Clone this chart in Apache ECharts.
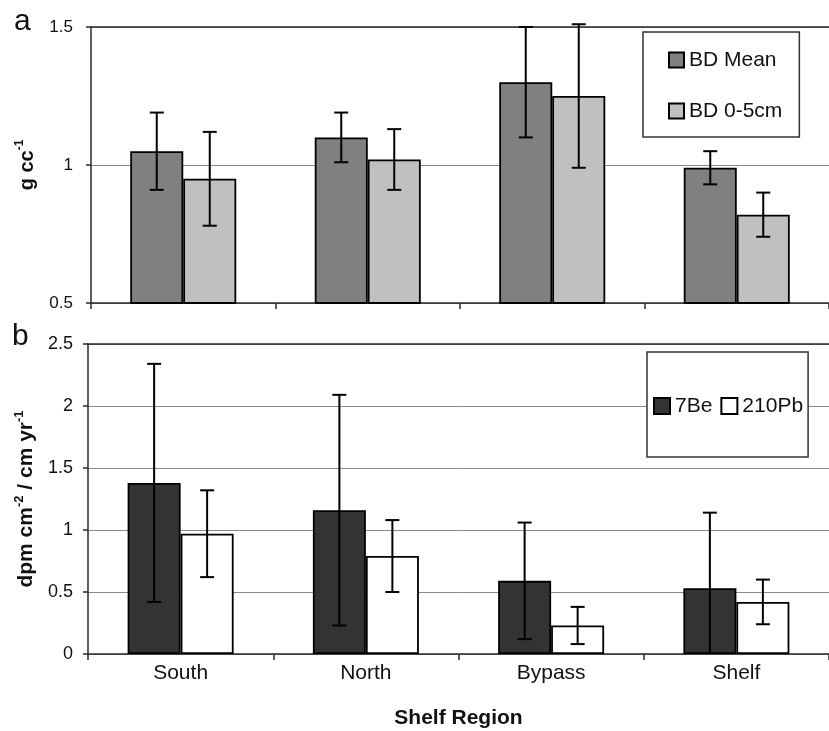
<!DOCTYPE html>
<html>
<head>
<meta charset="utf-8">
<script src="https://cdn.jsdelivr.net/npm/echarts@6/dist/echarts.min.js"></script>
<style>html,body{margin:0;padding:0;background:#fff}#c{width:829px;height:731px}</style>
</head>
<body>
<div id="c"></div>
<script>
const categories = ['South', 'North', 'Bypass', 'Shelf'];
const bdMean = [1.05, 1.10, 1.30, 0.99];
const bdMeanErr = [0.14, 0.09, 0.20, 0.06];
const bd05 = [0.95, 1.02, 1.25, 0.82];
const bd05Err = [0.17, 0.11, 0.26, 0.08];
const be7 = [1.38, 1.16, 0.59, 0.53];
const be7Err = [0.96, 0.93, 0.47, 0.61];
const pb210 = [0.97, 0.79, 0.23, 0.42];
const pb210Err = [0.35, 0.29, 0.15, 0.18];
const topTicks = {min: 0.5, max: 1.5, interval: 0.5};
const botTicks = {min: 0, max: 2.5, interval: 0.5};

const FONT = '"Liberation Sans", Arial, Helvetica, sans-serif';
const BAR_W = 53;
const CAP = 14;
const AXIS_C = '#2a2a2a';
const GRID_C = '#8a8a8a';

function errSeries(name, vals, errs, slot, xi, yi, axisMin) {
  return {
    type: 'custom', name: name, xAxisIndex: xi, yAxisIndex: yi, z: 5,
    silent: true, clip: false,
    data: vals.map((v, i) => [i, v, errs[i]]),
    encode: {x: 0, y: 1},
    renderItem: function (params, api) {
      const i = api.value(0), v = api.value(1), e = api.value(2);
      const c = api.coord([i, v]);
      const x = c[0] + (slot - 0.5) * BAR_W;
      const yTop = api.coord([i, v + e])[1];
      const low = Math.max(v - e, axisMin);
      const yBot = api.coord([i, low])[1];
      const st = {stroke: '#000', lineWidth: 2};
      const kids = [
        {type: 'line', shape: {x1: x, y1: yTop, x2: x, y2: yBot}, style: st},
        {type: 'line', shape: {x1: x - CAP / 2, y1: yTop, x2: x + CAP / 2, y2: yTop}, style: st}
      ];
      if (v - e >= axisMin) {
        kids.push({type: 'line', shape: {x1: x - CAP / 2, y1: yBot, x2: x + CAP / 2, y2: yBot}, style: st});
      }
      return {type: 'group', children: kids};
    }
  };
}

function barSeries(name, vals, color, xi, yi) {
  return {
    type: 'bar', name: name, data: vals, xAxisIndex: xi, yAxisIndex: yi,
    barWidth: BAR_W, barGap: '0%',
    itemStyle: {color: color, borderColor: '#000', borderWidth: 1.8},
    emphasis: {disabled: true}
  };
}

const chart = echarts.init(document.getElementById('c'), null, {renderer: 'canvas'});

const catAxisBase = {
  type: 'category', data: categories,
  axisLine: {lineStyle: {color: AXIS_C, width: 1.5}},
  axisTick: {show: true, length: 6, lineStyle: {color: AXIS_C, width: 1.5}},
  splitLine: {show: false}
};
const topLineAxis = (gi) => ({
  type: 'category', data: categories, gridIndex: gi, position: 'top',
  axisLine: {show: true, lineStyle: {color: AXIS_C, width: 1.5}},
  axisTick: {show: false}, axisLabel: {show: false}, splitLine: {show: false}
});

function richName(size) {
  return {
    m: {fontSize: size, fontWeight: 'bold', color: '#111', fontFamily: FONT, lineHeight: 26},
    s: {fontSize: Math.round(size * 0.62), fontWeight: 'bold', color: '#111', fontFamily: FONT, verticalAlign: 'top', lineHeight: 26}
  };
}

chart.setOption({
  animation: false,
  backgroundColor: '#fff',
  textStyle: {fontFamily: FONT},
  grid: [
    {left: 91, top: 27, width: 739, height: 276},
    {left: 88, top: 344, width: 741, height: 310}
  ],
  xAxis: [
    Object.assign({}, catAxisBase, {gridIndex: 0, axisLabel: {show: false}}),
    Object.assign({}, catAxisBase, {
      gridIndex: 1,
      axisLabel: {fontSize: 21, color: '#111', margin: 9, fontFamily: FONT},
      name: 'Shelf Region', nameLocation: 'middle', nameGap: 54,
      nameTextStyle: {fontSize: 21, fontWeight: 'bold', color: '#111', fontFamily: FONT}
    }),
    topLineAxis(0),
    topLineAxis(1)
  ],
  yAxis: [
    {
      type: 'value', gridIndex: 0, min: topTicks.min, max: topTicks.max, interval: topTicks.interval,
      axisLine: {show: true, lineStyle: {color: AXIS_C, width: 1.5}},
      axisTick: {show: true, length: 5, lineStyle: {color: AXIS_C, width: 1.5}},
      axisLabel: {fontSize: 17, color: '#111', margin: 18, fontFamily: FONT},
      splitLine: {show: true, lineStyle: {color: GRID_C, width: 1}},
      name: '{m|g cc}{s|-1}', nameLocation: 'middle', nameRotate: 90, nameGap: 51,
      nameTextStyle: {rich: richName(20)}
    },
    {
      type: 'value', gridIndex: 1, min: botTicks.min, max: botTicks.max, interval: botTicks.interval,
      axisLine: {show: true, lineStyle: {color: AXIS_C, width: 1.5}},
      axisTick: {show: true, length: 5, lineStyle: {color: AXIS_C, width: 1.5}},
      axisLabel: {fontSize: 18, color: '#111', margin: 15, fontFamily: FONT},
      splitLine: {show: true, lineStyle: {color: GRID_C, width: 1}},
      name: '{m|dpm cm}{s|-2}{m| / cm yr}{s|-1}', nameLocation: 'middle', nameRotate: 90, nameGap: 49,
      nameTextStyle: {rich: richName(21)}
    }
  ],
  legend: [
    {
      data: ['BD Mean', 'BD 0-5cm'], orient: 'vertical', left: 643, top: 32,
      padding: [17, 17, 15, 25], itemGap: 29, itemWidth: 15, itemHeight: 15,
      icon: 'rect',
      backgroundColor: '#fff', borderColor: '#333', borderWidth: 1.5,
      textStyle: {fontSize: 21, color: '#111', fontFamily: FONT, lineHeight: 22},
      selectedMode: false
    },
    {
      data: ['7Be', '210Pb'], orient: 'horizontal', left: 647, top: 352,
      padding: [43, 5, 40, 6], itemGap: 8, itemWidth: 16, itemHeight: 16,
      icon: 'rect',
      backgroundColor: '#fff', borderColor: '#333', borderWidth: 1.5,
      textStyle: {fontSize: 21, color: '#111', fontFamily: FONT, lineHeight: 22},
      selectedMode: false
    }
  ],
  graphic: [
    {type: 'text', left: 14, top: 7, style: {text: 'a', fontSize: 30, fill: '#111', fontFamily: FONT}},
    {type: 'text', left: 12, top: 322, style: {text: 'b', fontSize: 30, fill: '#111', fontFamily: FONT}}
  ],
  series: [
    barSeries('BD Mean', bdMean, '#808080', 0, 0),
    barSeries('BD 0-5cm', bd05, '#c0c0c0', 0, 0),
    errSeries('BD Mean err', bdMean, bdMeanErr, 0, 0, 0, topTicks.min),
    errSeries('BD 0-5cm err', bd05, bd05Err, 1, 0, 0, topTicks.min),
    barSeries('7Be', be7, '#333333', 1, 1),
    barSeries('210Pb', pb210, '#ffffff', 1, 1),
    errSeries('7Be err', be7, be7Err, 0, 1, 1, botTicks.min),
    errSeries('210Pb err', pb210, pb210Err, 1, 1, 1, botTicks.min)
  ]
});
</script>
</body>
</html>
